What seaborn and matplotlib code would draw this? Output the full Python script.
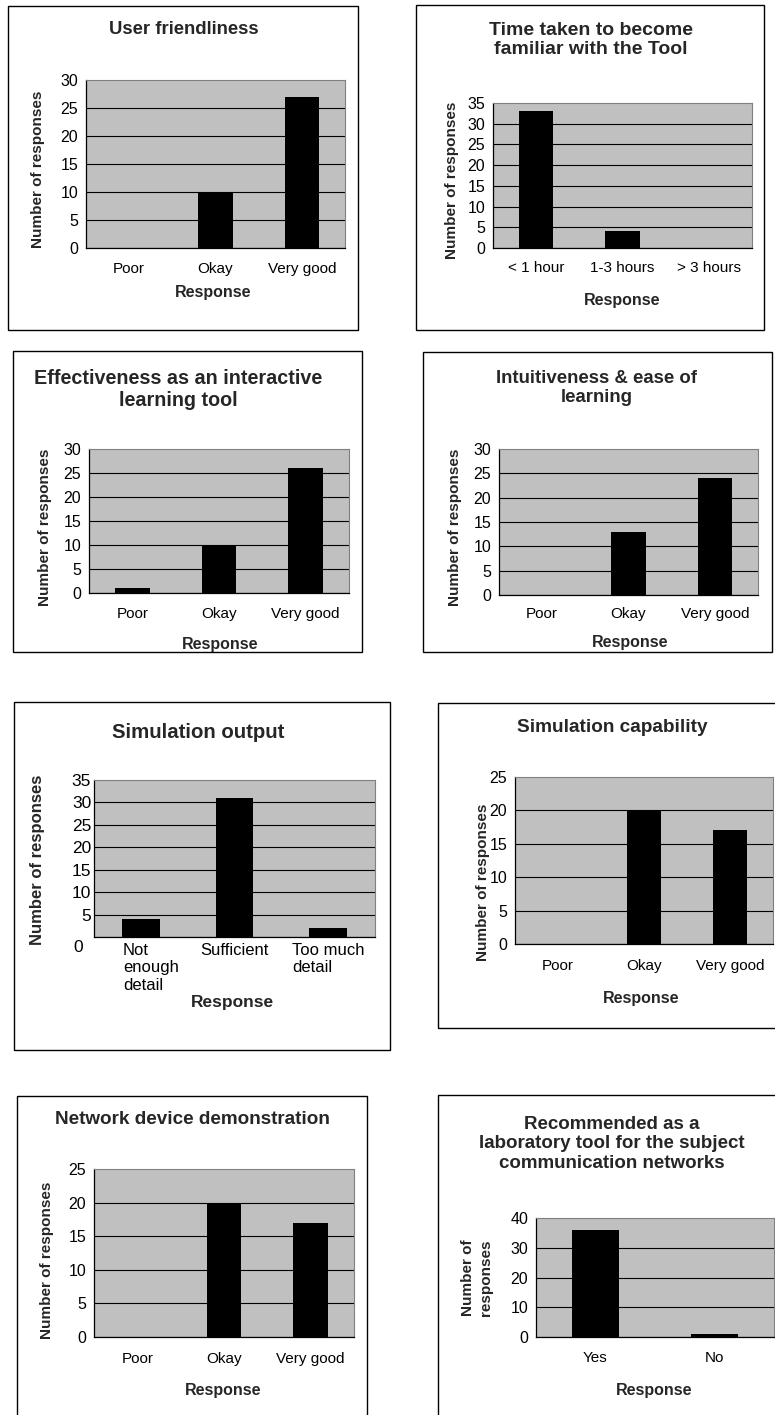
import matplotlib
matplotlib.use("Agg")
import matplotlib.pyplot as plt
import seaborn as sns
from matplotlib.patches import Rectangle
from matplotlib.ticker import FixedLocator
from matplotlib.transforms import ScaledTranslation

# answer categories
ratings = ["Poor", "Okay", "Very good"]
time_options = ["< 1 hour", "1-3 hours", "> 3 hours"]
output_options = ["Not\nenough\ndetail", "Sufficient", "Too much\ndetail"]
yes_no = ["Yes", "No"]

# number of responses per question
user_friendliness = [0, 10, 27]
time_to_learn = [33, 4, 0]
effectiveness = [1, 10, 26]
intuitiveness = [0, 13, 24]
sim_output = [4, 31, 2]
sim_capability = [0, 20, 17]
device_demo = [0, 20, 17]
recommended = [36, 1]

W, H, DPI = 775, 1415, 100

sns.set_style("white")
plt.rcParams["font.family"] = ["Liberation Sans", "DejaVu Sans"]

fig = plt.figure(figsize=(W / DPI, H / DPI), dpi=DPI)

# layout in pixels: box=(l,t,r,b) of chart frame, plot=(l,t,r,b) of plot area
# fs = (title, tick labels, axis labels)
panels = [
    dict(title="User friendliness", cats=ratings, vals=user_friendliness, ymax=30, step=5,
         box=(8, 6, 358, 330), plot=(86, 80, 345, 248), title_xy=(184, 30),
         ylab_xy=(38, 169), xlab_xy=(213, 293), xt_y=270, fs=(13.3, 11, 11)),
    dict(title="Time taken to become\nfamiliar with the Tool", cats=time_options, vals=time_to_learn,
         ymax=35, step=5, box=(416, 5, 764, 330), plot=(493, 103, 752, 248), title_xy=(591, 40),
         ylab_xy=(452, 180), xlab_xy=(622, 300), xt_y=269, fs=(14, 11, 11)),
    dict(title="Effectiveness as an interactive\nlearning tool", cats=ratings, vals=effectiveness,
         ymax=30, step=5, box=(13, 351, 362, 652), plot=(89, 449, 349, 593), title_xy=(178, 390),
         ylab_xy=(45, 527), xlab_xy=(220, 645), xt_y=615, fs=(14.2, 11, 11)),
    dict(title="Intuitiveness & ease of\nlearning", cats=ratings, vals=intuitiveness,
         ymax=30, step=5, box=(423, 352, 772, 652), plot=(499, 449, 758, 595), title_xy=(597, 388),
         ylab_xy=(455, 527), xlab_xy=(630, 643), xt_y=615, fs=(13.4, 11, 11)),
    dict(title="Simulation output", cats=output_options, vals=sim_output,
         ymax=35, step=5, box=(14, 702, 390, 1050), plot=(94, 780, 375, 937), title_xy=(198, 732),
         ylab_xy=(38, 860), xlab_xy=(232, 1003), xt_y=952, fs=(14.7, 12, 12)),
    dict(title="Simulation capability", cats=ratings, vals=sim_capability,
         ymax=25, step=5, box=(438, 703, 790, 1028), plot=(515, 777, 773, 944), title_xy=(612, 727),
         ylab_xy=(483, 882), xlab_xy=(641, 998), xt_y=967, fs=(13.7, 11, 11)),
    dict(title="Network device demonstration", cats=ratings, vals=device_demo,
         ymax=25, step=5, box=(17, 1096, 367, 1430), plot=(94, 1169, 354, 1337), title_xy=(192, 1119),
         ylab_xy=(47, 1260), xlab_xy=(223, 1390), xt_y=1360, fs=(13.6, 11, 11)),
    dict(title="Recommended as a\nlaboratory tool for the subject\ncommunication networks", cats=yes_no,
         vals=recommended, ymax=40, step=10, box=(438, 1095, 790, 1430), plot=(536, 1218, 774, 1337),
         title_xy=(612, 1144), ylab_xy=(477, 1278), xlab_xy=(654, 1390), xt_y=1359,
         fs=(13.5, 11, 11), ylabel="Number of\nresponses"),
]

for p in panels:
    bl, bt, br, bb = p["box"]
    fig.add_artist(Rectangle((bl / W, 1 - bb / H), (br - bl) / W, (bb - bt) / H,
                             transform=fig.transFigure, fill=False, ec="black", lw=1))

    l, t, r, b = p["plot"]
    ax = fig.add_axes([l / W, 1 - b / H, (r - l) / W, (b - t) / H])
    ax.set_facecolor("#C0C0C0")

    n = len(p["cats"])
    sns.barplot(x=p["cats"], y=p["vals"], color="black", linewidth=0,
                saturation=1, width=0.4, ax=ax, zorder=3)
    ax.set_xlim(-0.5, n - 0.5)
    ax.set_ylim(0, p["ymax"])

    tfs, kfs, lfs = p["fs"]
    ax.yaxis.set_major_locator(FixedLocator(list(range(0, p["ymax"] + 1, p["step"]))))
    ax.xaxis.set_minor_locator(FixedLocator([i - 0.5 for i in range(n + 1)]))
    ax.grid(axis="y", color="black", lw=0.8, zorder=1)
    ax.grid(axis="x", visible=False)
    ax.set_axisbelow(True)

    for s in ["top", "right"]:
        ax.spines[s].set_color("#808080")
        ax.spines[s].set_linewidth(0.8)
    for s in ["left", "bottom"]:
        ax.spines[s].set_color("black")
        ax.spines[s].set_linewidth(0.9)

    fs_px = kfs * DPI / 72
    xpad = max((p["xt_y"] - b - 0.55 * fs_px) * 72 / DPI, 0)
    ax.tick_params(axis="x", which="major", length=0, pad=xpad, labelsize=kfs)
    ax.tick_params(axis="x", which="minor", length=3.5, width=0.8, color="black", direction="out")
    ylen = 0 if p["title"] == "Simulation output" else 3.5
    ax.tick_params(axis="y", which="major", length=ylen, width=0.8, color="black",
                   direction="out", pad=2, labelsize=kfs + 0.5)
    ax.tick_params(axis="both", colors="black", labelcolor="black")
    for lab in ax.get_xticklabels():
        lab.set_multialignment("left")
        lab.set_linespacing(1.2)

    # the top gridline coincides with the grey frame of the plot area
    ax.get_ygridlines()[-1].set_visible(False)

    ax.set_xlabel("Response", fontsize=lfs + 0.5, fontweight="bold")
    ax.set_ylabel(p.get("ylabel", "Number of responses"), fontsize=lfs, fontweight="bold",
                  linespacing=1.3)
    xx, xy = p["xlab_xy"]
    yx, yy = p["ylab_xy"]
    ax.xaxis.set_label_coords((xx - l) / (r - l), (b - xy) / (b - t))
    ax.yaxis.set_label_coords((yx - l) / (r - l), (b - yy) / (b - t))
    ax.xaxis.label.set_va("center")
    ax.yaxis.label.set_va("center")

    if p["title"] == "Simulation output":
        zero = ax.get_yticklabels()[0]
        zero.set_transform(zero.get_transform() + ScaledTranslation(-8 / DPI, -9 / DPI, fig.dpi_scale_trans))
        first = ax.get_xticklabels()[0]
        first.set_transform(first.get_transform() + ScaledTranslation(10 / DPI, 0, fig.dpi_scale_trans))

    tx, ty = p["title_xy"]
    fig.text(tx / W, 1 - ty / H, p["title"], ha="center", va="center",
             fontsize=tfs, fontweight="bold", linespacing=1.2)

fig.savefig("out.png", dpi=DPI)
